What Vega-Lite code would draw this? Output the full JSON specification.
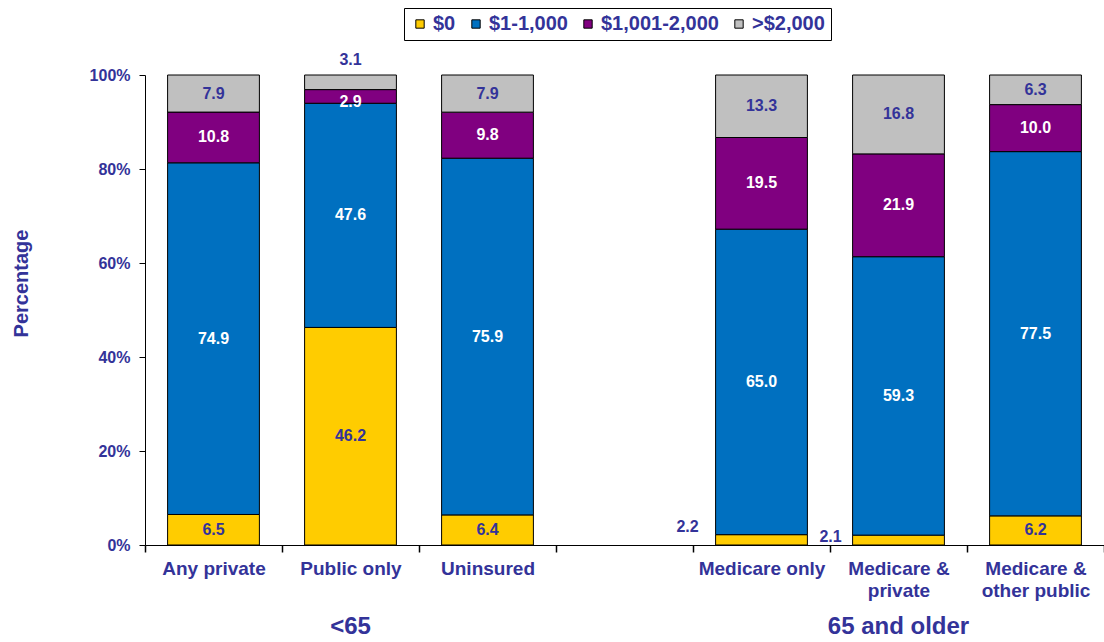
{
  "$schema": "https://vega.github.io/schema/vega-lite/v6.json",
  "autosize": {"type": "none"},
  "padding": {"left": 145, "top": 75, "right": 0, "bottom": 97},
  "width": 959,
  "height": 470,
  "config": {
    "view": {"stroke": null},
    "font": "Liberation Sans",
    "axis": {"grid": false}
  },
  "data": {
    "values": [
      {"cat": "Any private", "seg": "$0", "value": 6.5},
      {"cat": "Any private", "seg": "$1-1,000", "value": 74.9},
      {"cat": "Any private", "seg": "$1,001-2,000", "value": 10.8},
      {"cat": "Any private", "seg": ">$2,000", "value": 7.9},
      {"cat": "Public only", "seg": "$0", "value": 46.2},
      {"cat": "Public only", "seg": "$1-1,000", "value": 47.6},
      {"cat": "Public only", "seg": "$1,001-2,000", "value": 2.9},
      {"cat": "Public only", "seg": ">$2,000", "value": 3.1},
      {"cat": "Uninsured", "seg": "$0", "value": 6.4},
      {"cat": "Uninsured", "seg": "$1-1,000", "value": 75.9},
      {"cat": "Uninsured", "seg": "$1,001-2,000", "value": 9.8},
      {"cat": "Uninsured", "seg": ">$2,000", "value": 7.9},
      {"cat": "Medicare only", "seg": "$0", "value": 2.2},
      {"cat": "Medicare only", "seg": "$1-1,000", "value": 65.0},
      {"cat": "Medicare only", "seg": "$1,001-2,000", "value": 19.5},
      {"cat": "Medicare only", "seg": ">$2,000", "value": 13.3},
      {"cat": "Medicare & private", "seg": "$0", "value": 2.1},
      {"cat": "Medicare & private", "seg": "$1-1,000", "value": 59.3},
      {"cat": "Medicare & private", "seg": "$1,001-2,000", "value": 21.9},
      {"cat": "Medicare & private", "seg": ">$2,000", "value": 16.8},
      {"cat": "Medicare & other public", "seg": "$0", "value": 6.2},
      {"cat": "Medicare & other public", "seg": "$1-1,000", "value": 77.5},
      {"cat": "Medicare & other public", "seg": "$1,001-2,000", "value": 10.0},
      {"cat": "Medicare & other public", "seg": ">$2,000", "value": 6.3}
    ]
  },
  "transform": [
    {"calculate": "indexof(['$0','$1-1,000','$1,001-2,000','>$2,000'], datum.seg)", "as": "k"},
    {"stack": "value", "groupby": ["cat"], "sort": [{"field": "k", "order": "ascending"}], "offset": "normalize", "as": ["v0", "v1"]},
    {"calculate": "(datum.v0 + datum.v1) / 2", "as": "mid"}
  ],
  "encoding": {
    "x": {
      "field": "cat",
      "type": "nominal",
      "sort": null,
      "scale": {
        "domain": ["Any private", "Public only", "Uninsured", " ", "Medicare only", "Medicare & private", "Medicare & other public"],
        "paddingInner": 0,
        "paddingOuter": 0
      },
      "axis": {
        "title": null,
        "labelAngle": 0,
        "labelFontSize": 19,
        "labelFontWeight": "bold",
        "labelColor": "#333399",
        "labelPadding": 7,
        "labelLineHeight": 22,
        "tickBand": "extent",
        "ticks": true,
        "tickSize": 7,
        "tickWidth": 1.5,
        "tickColor": "#000000",
        "domainColor": "#000000",
        "labelExpr": "datum.value == 'Medicare & private' ? ['Medicare &', 'private'] : datum.value == 'Medicare & other public' ? ['Medicare &', 'other public'] : datum.label"
      }
    }
  },
  "layer": [
    {
      "mark": {"type": "bar", "stroke": "#000000", "strokeWidth": 1, "width": {"band": 0.67}},
      "encoding": {
        "y": {
          "field": "v0",
          "type": "quantitative",
          "scale": {"domain": [0, 1]},
          "axis": {
            "values": [0, 0.2, 0.4, 0.6, 0.8, 1],
            "format": ".0%",
            "title": "Percentage",
            "titleFontSize": 20,
            "titleFontWeight": "bold",
            "titleColor": "#333399",
            "titlePadding": 58,
            "titleY": 208,
            "labelFontSize": 16,
            "labelFontWeight": "bold",
            "labelColor": "#333399",
            "labelPadding": 9,
            "tickSize": 6,
            "tickColor": "#000000",
            "domainColor": "#000000"
          }
        },
        "y2": {"field": "v1"},
        "color": {
          "field": "seg",
          "type": "nominal",
          "scale": {
            "domain": ["$0", "$1-1,000", "$1,001-2,000", ">$2,000"],
            "range": ["#FFCC00", "#0070C0", "#800080", "#C0C0C0"]
          },
          "legend": {
            "title": null,
            "orient": "none",
            "legendX": 259,
            "legendY": -67,
            "direction": "horizontal",
            "symbolType": "square",
            "symbolSize": 70,
            "symbolStrokeColor": "#000000",
            "symbolStrokeWidth": 1,
            "symbolOpacity": 1,
            "labelFontSize": 20,
            "labelFontWeight": "bold",
            "labelColor": "#333399",
            "labelOffset": 3,
            "columnPadding": 10,
            "strokeColor": "#000000",
            "padding": 6,
            "fillColor": "#ffffff"
          }
        }
      }
    },
    {
      "transform": [{"filter": "datum.value >= 4"}],
      "mark": {"type": "text", "fontSize": 16, "fontWeight": "bold", "baseline": "middle"},
      "encoding": {
        "y": {"field": "mid", "type": "quantitative"},
        "text": {"field": "value", "type": "quantitative", "format": ".1f"},
        "fill": {
          "condition": {"test": "datum.seg == '$1-1,000' || datum.seg == '$1,001-2,000'", "value": "#ffffff"},
          "value": "#333399"
        }
      }
    },
    {
      "transform": [{"filter": "datum.value < 4 && datum.seg == '$1,001-2,000'"}],
      "mark": {"type": "text", "fontSize": 16, "fontWeight": "bold", "baseline": "middle", "dy": 6, "fill": "#ffffff"},
      "encoding": {
        "y": {"field": "mid", "type": "quantitative"},
        "text": {"field": "value", "type": "quantitative", "format": ".1f"}
      }
    },
    {
      "transform": [{"filter": "datum.value < 4 && datum.seg == '>$2,000'"}],
      "mark": {"type": "text", "fontSize": 16, "fontWeight": "bold", "baseline": "middle", "dy": -15, "fill": "#333399"},
      "encoding": {
        "y": {"field": "v1", "type": "quantitative"},
        "text": {"field": "value", "type": "quantitative", "format": ".1f"}
      }
    },
    {
      "transform": [{"filter": "datum.value < 4 && datum.seg == '$0' && datum.cat == 'Medicare only'"}],
      "mark": {"type": "text", "fontSize": 16, "fontWeight": "bold", "baseline": "middle", "dx": -74, "dy": -13, "fill": "#333399"},
      "encoding": {
        "y": {"field": "mid", "type": "quantitative"},
        "text": {"field": "value", "type": "quantitative", "format": ".1f"}
      }
    },
    {
      "transform": [{"filter": "datum.value < 4 && datum.seg == '$0' && datum.cat == 'Medicare & private'"}],
      "mark": {"type": "text", "fontSize": 16, "fontWeight": "bold", "baseline": "middle", "dx": -68, "dy": -3, "fill": "#333399"},
      "encoding": {
        "y": {"field": "mid", "type": "quantitative"},
        "text": {"field": "value", "type": "quantitative", "format": ".1f"}
      }
    },
    {
      "data": {
        "values": [
          {"cat": "Public only", "grp": "<65"},
          {"cat": "Medicare & private", "grp": "65 and older"}
        ]
      },
      "transform": [],
      "mark": {"type": "text", "fontSize": 24, "fontWeight": "bold", "baseline": "middle", "fill": "#333399"},
      "encoding": {
        "y": {"datum": -0.1745, "type": "quantitative"},
        "text": {"field": "grp", "type": "nominal"}
      }
    }
  ]
}
